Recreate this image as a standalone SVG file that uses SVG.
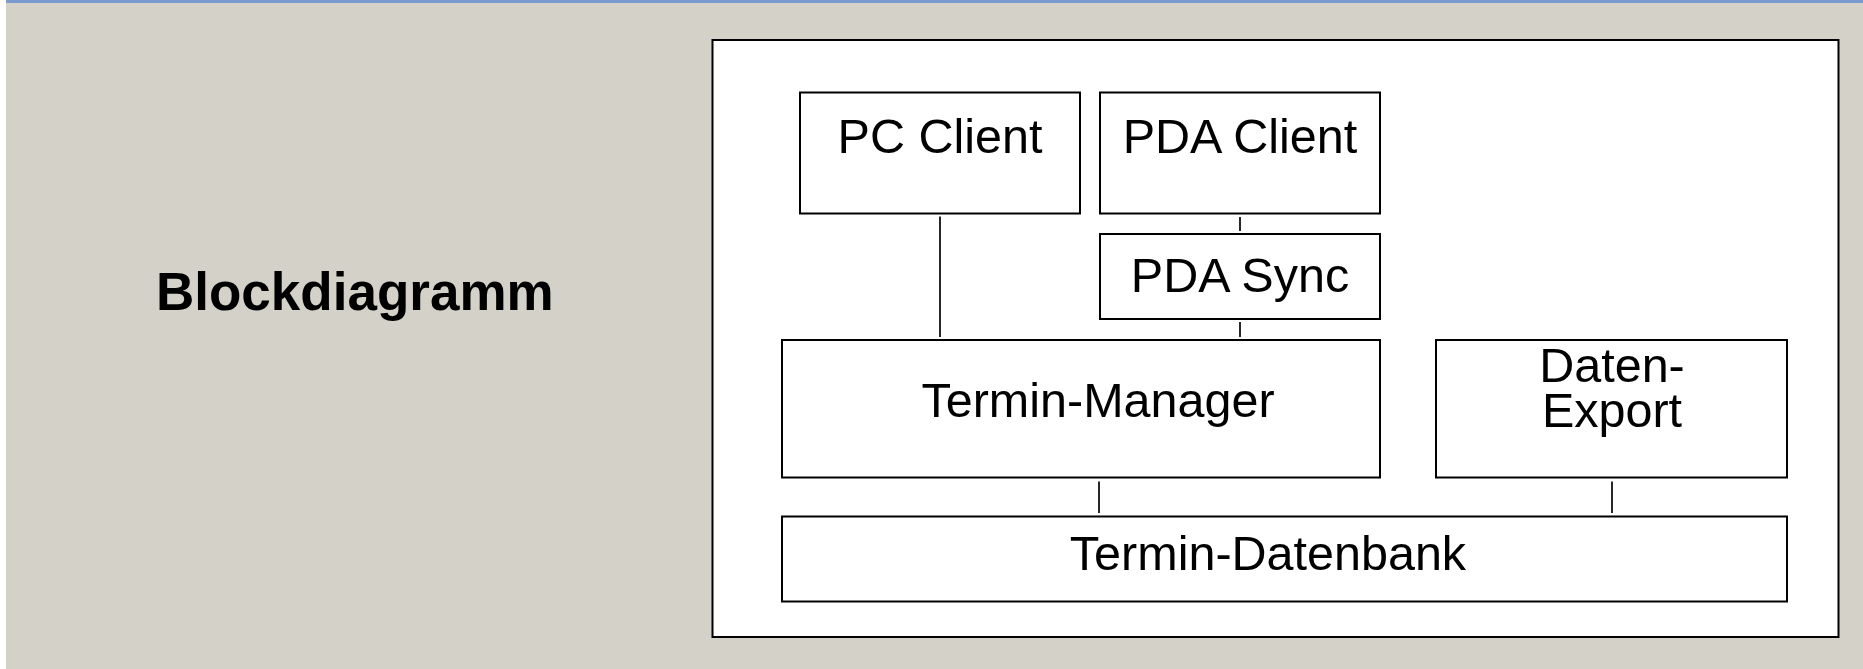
<svg xmlns="http://www.w3.org/2000/svg" width="1863" height="669" viewBox="0 0 1863 669">
<style>
.box{fill:#fff;stroke:#000;stroke-width:2}
.lbl{font-family:"Liberation Sans",Arial,sans-serif;font-size:48.5px;fill:#000;text-anchor:middle}
.conn{stroke:#000;stroke-width:1.7;fill:none}
</style>
<rect x="0" y="0" width="1863" height="669" fill="#D4D1C9"/>
<rect x="0" y="0" width="6" height="669" fill="#FFFFFF"/>
<rect x="6" y="0" width="1857" height="3" fill="#7B9ACF"/>
<text x="156" y="310" font-family="'Liberation Sans',Arial,sans-serif" font-size="53" font-weight="bold" fill="#000">Blockdiagramm</text>
<g id="frame"><rect x="712.5" y="40" width="1126" height="597" class="box"/></g>
<g id="pc-client"><rect x="800" y="92.5" width="280" height="121" class="box"/><text x="940" y="153" class="lbl">PC Client</text></g>
<g id="pda-client"><rect x="1100" y="92.5" width="280" height="121" class="box"/><text x="1240" y="153" class="lbl">PDA Client</text></g>
<g id="pda-sync"><rect x="1100" y="234" width="280" height="85" class="box"/><text x="1240" y="292" class="lbl">PDA Sync</text></g>
<g id="termin-manager"><rect x="782" y="340" width="598" height="137.5" class="box"/><text x="1098" y="417" class="lbl">Termin-Manager</text></g>
<g id="daten-export"><rect x="1436" y="340" width="351" height="137.5" class="box"/><text class="lbl"><tspan x="1612" y="382">Daten-</tspan><tspan x="1612" y="427">Export</tspan></text></g>
<g id="termin-datenbank"><rect x="782" y="516.5" width="1005" height="85" class="box"/><text x="1268" y="570" class="lbl">Termin-Datenbank</text></g>
<g id="connectors">
<line x1="940" y1="216.5" x2="940" y2="337" class="conn"/>
<line x1="1240" y1="217" x2="1240" y2="231" class="conn"/>
<line x1="1240" y1="322" x2="1240" y2="337" class="conn"/>
<line x1="1099" y1="481.5" x2="1099" y2="513" class="conn"/>
<line x1="1612" y1="481.5" x2="1612" y2="513" class="conn"/>
</g>
</svg>
